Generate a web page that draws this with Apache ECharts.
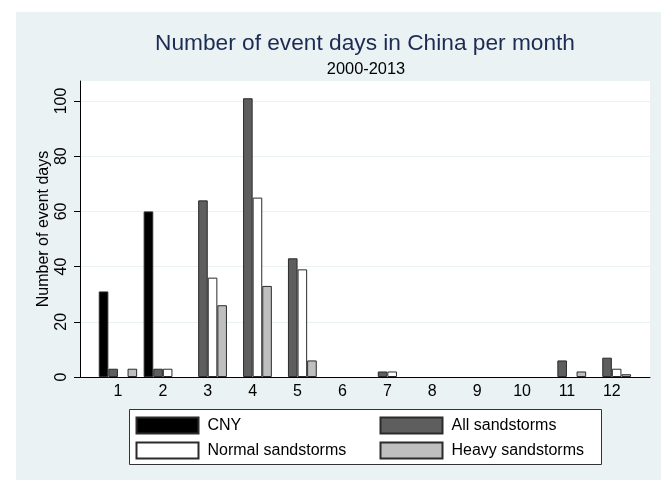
<!DOCTYPE html>
<html>
<head>
<meta charset="utf-8">
<script src="https://cdn.jsdelivr.net/npm/echarts@6/dist/echarts.min.js"></script>
<style>
html, body { margin: 0; padding: 0; background: #fff; }
#chart { width: 661px; height: 480px; }
</style>
</head>
<body>
<div id="chart"></div>
<script>
const months = ['1', '2', '3', '4', '5', '6', '7', '8', '9', '10', '11', '12'];
const cny = [31, 60, 0, 0, 0, 0, 0, 0, 0, 0, 0, 0];
const allStorms = [3, 3, 64, 101, 43, 0, 2, 0, 0, 0, 6, 7];
const normalStorms = [0, 3, 36, 65, 39, 0, 2, 0, 0, 0, 0, 3];
const heavyStorms = [3, 0, 26, 33, 6, 0, 0, 0, 0, 0, 2, 1];
const yTicks = [0, 20, 40, 60, 80, 100];

const font = '"Liberation Sans", Arial, Helvetica, sans-serif';
const border = '#2b2b2b';

// zero counts draw nothing
function bars(arr) {
    return arr.map(v => v === 0 ? null : v);
}

function barSeries(name, data, color) {
    return {
        name: name,
        type: 'bar',
        xAxisIndex: 1,
        yAxisIndex: 1,
        barWidth: 9.6,
        barGap: '0%',
        data: bars(data),
        itemStyle: { color: color, borderColor: border, borderWidth: 1 },
        emphasis: { disabled: true }
    };
}

let myChart = echarts.init(document.getElementById('chart'));

let option = {
    animation: false,
    backgroundColor: '#ffffff',
    textStyle: { fontFamily: font },
    graphic: [
        { type: 'rect', z: -10, shape: { x: 16, y: 12, width: 645, height: 468 }, style: { fill: '#eaf2f3' } },
        { type: 'rect', z: 0, shape: { x: 129.5, y: 409.5, width: 472, height: 55 }, style: { fill: '#ffffff', stroke: '#333', lineWidth: 1 } }
    ],
    title: [
        {
            text: 'Number of event days in China per month',
            left: 365, top: 32, padding: 0, textAlign: 'center',
            textStyle: { fontFamily: font, fontSize: 22.7, fontWeight: 'normal', color: '#1c2b52' }
        },
        {
            text: '2000-2013',
            left: 366, top: 61, padding: 0, textAlign: 'center',
            textStyle: { fontFamily: font, fontSize: 16.4, fontWeight: 'normal', color: '#000' }
        }
    ],
    legend: [
        {
            data: ['CNY', 'Normal sandstorms'],
            orient: 'vertical', left: 135.5, top: 416.5, padding: 0,
            itemWidth: 62, itemHeight: 16, itemGap: 7, icon: 'rect',
            textStyle: { fontFamily: font, fontSize: 16, color: '#000', padding: [0, 0, 0, 4] }
        },
        {
            data: ['All sandstorms', 'Heavy sandstorms'],
            orient: 'vertical', left: 379.5, top: 416.5, padding: 0,
            itemWidth: 62, itemHeight: 16, itemGap: 7, icon: 'rect',
            textStyle: { fontFamily: font, fontSize: 16, color: '#000', padding: [0, 0, 0, 4] }
        }
    ],
    grid: [
        { left: 80, top: 81, width: 570, height: 296, show: true, backgroundColor: '#fff', borderWidth: 0 },
        { left: 95.5, top: 81, width: 538.8, height: 296 }
    ],
    xAxis: [
        {
            gridIndex: 0, type: 'value', min: 0, max: 1,
            axisLine: { show: true, lineStyle: { color: '#000', width: 1 } },
            axisTick: { show: false }, axisLabel: { show: false }, splitLine: { show: false }
        },
        {
            gridIndex: 1, type: 'category', data: months,
            axisLine: { show: false }, axisTick: { show: false },
            axisLabel: { fontFamily: font, fontSize: 16, color: '#000', margin: 7 }
        }
    ],
    yAxis: [
        {
            gridIndex: 0, type: 'value', min: 0, max: 107.25,
            name: 'Number of event days', nameLocation: 'middle', nameGap: 28, nameMoveOverlap: false,
            nameTextStyle: { fontFamily: font, fontSize: 16, color: '#000' },
            axisLine: { show: true, lineStyle: { color: '#000', width: 1 } },
            axisTick: { show: true, length: 6, customValues: yTicks, lineStyle: { color: '#000' } },
            axisLabel: { rotate: 90, customValues: yTicks, margin: 10, fontFamily: font, fontSize: 16, color: '#000' },
            splitLine: { show: true, lineStyle: { color: '#eaf2f3', width: 1 } }
        },
        {
            gridIndex: 1, type: 'value', min: 0, max: 107.25, show: false
        }
    ],
    series: [
        barSeries('CNY', cny, '#000000'),
        barSeries('All sandstorms', allStorms, '#5e5e5e'),
        barSeries('Normal sandstorms', normalStorms, '#ffffff'),
        barSeries('Heavy sandstorms', heavyStorms, '#bfbfbf')
    ]
};
myChart.setOption(option);
</script>
</body>
</html>
